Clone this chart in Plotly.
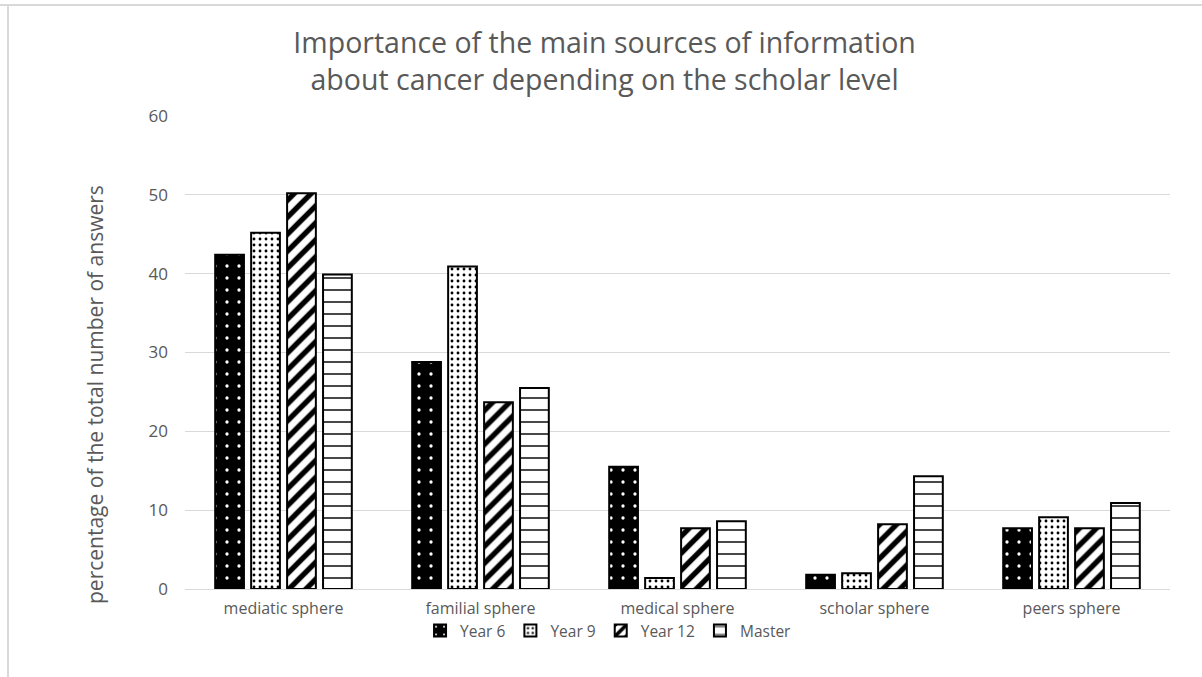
import plotly.graph_objects as go

categories = ["mediatic sphere", "familial sphere", "medical sphere", "scholar sphere", "peers sphere"]
year6 = [42.4, 28.8, 15.5, 1.8, 7.7]
year9 = [45.2, 40.9, 1.4, 2.0, 9.1]
year12 = [50.2, 23.7, 7.7, 8.2, 7.7]
master = [39.9, 25.5, 8.6, 14.3, 10.9]
series_names = ["Year 6", "Year 9", "Year 12", "Master"]
y_ticks = [0, 10, 20, 30, 40, 50, 60]

patterns = [
    dict(shape=".", fgcolor="white", bgcolor="black", size=12, solidity=0.06),
    dict(shape=".", fgcolor="black", bgcolor="white", size=6, solidity=0.18),
    dict(shape="/", fgcolor="black", bgcolor="white", size=12, solidity=0.45),
    dict(shape="-", fgcolor="black", bgcolor="white", size=12, solidity=0.12),
]

fig = go.Figure()
for name, vals, pat in zip(series_names, [year6, year9, year12, master], patterns):
    fig.add_trace(go.Bar(
        x=categories, y=vals, name=name,
        marker=dict(color=pat["bgcolor"], line=dict(color="black", width=2),
                    pattern=dict(shape=pat["shape"], fgcolor=pat["fgcolor"],
                                 bgcolor=pat["bgcolor"], size=pat["size"],
                                 solidity=pat["solidity"], fillmode="replace")),
    ))

font_fam = "'Open Sans', sans-serif"
fig.update_layout(
    width=1202, height=677,
    paper_bgcolor="white", plot_bgcolor="white",
    margin=dict(l=185, r=32, t=116, b=88),
    barmode="group", bargap=0.27, bargroupgap=0.2,
    font=dict(family=font_fam, color="#595959"),
    title=dict(text="Importance of the main sources of information<br>about cancer depending on the scholar level",
               x=0.503, xanchor="center", y=0.922, yanchor="top",
               font=dict(size=28.5, color="#595959", family=font_fam)),
    xaxis=dict(showline=True, linecolor="#d9d9d9", linewidth=1,
               tickfont=dict(size=16, color="#595959"), ticks="", ticklabelstandoff=5),
    yaxis=dict(range=[0, 60], tickvals=y_ticks, showgrid=True, gridcolor="#d9d9d9",
               gridwidth=1, zeroline=False, ticks="", ticklen=0, ticklabelstandoff=16,
               tickfont=dict(size=17, color="#595959")),
    annotations=[dict(text="percentage of the total number of answers",
                      xref="paper", yref="paper", x=(95 - 185) / 985, y=(589 - 395) / 473,
                      xanchor="center", yanchor="middle", textangle=-90, showarrow=False,
                      font=dict(size=21, color="#595959"))],
    legend=dict(orientation="h", x=0.43, xanchor="center", y=-(631 - 589) / 473, yanchor="middle",
                bgcolor="rgba(0,0,0,0)",
                font=dict(size=15.5, color="#595959"), itemwidth=30, traceorder="normal"),
    showlegend=True,
    shapes=[
        dict(type="line", xref="paper", yref="paper", x0=-185/985, x1=1.1,
             y0=1 + (116 - 5) / 473, y1=1 + (116 - 5) / 473,
             line=dict(color="#d9d9d9", width=2)),
        dict(type="line", xref="paper", yref="paper", x0=-177/985, x1=-177/985,
             y0=1 + (116 - 5) / 473, y1=-0.3,
             line=dict(color="#d9d9d9", width=2)),
    ],
)

fig.write_html("out.html")
